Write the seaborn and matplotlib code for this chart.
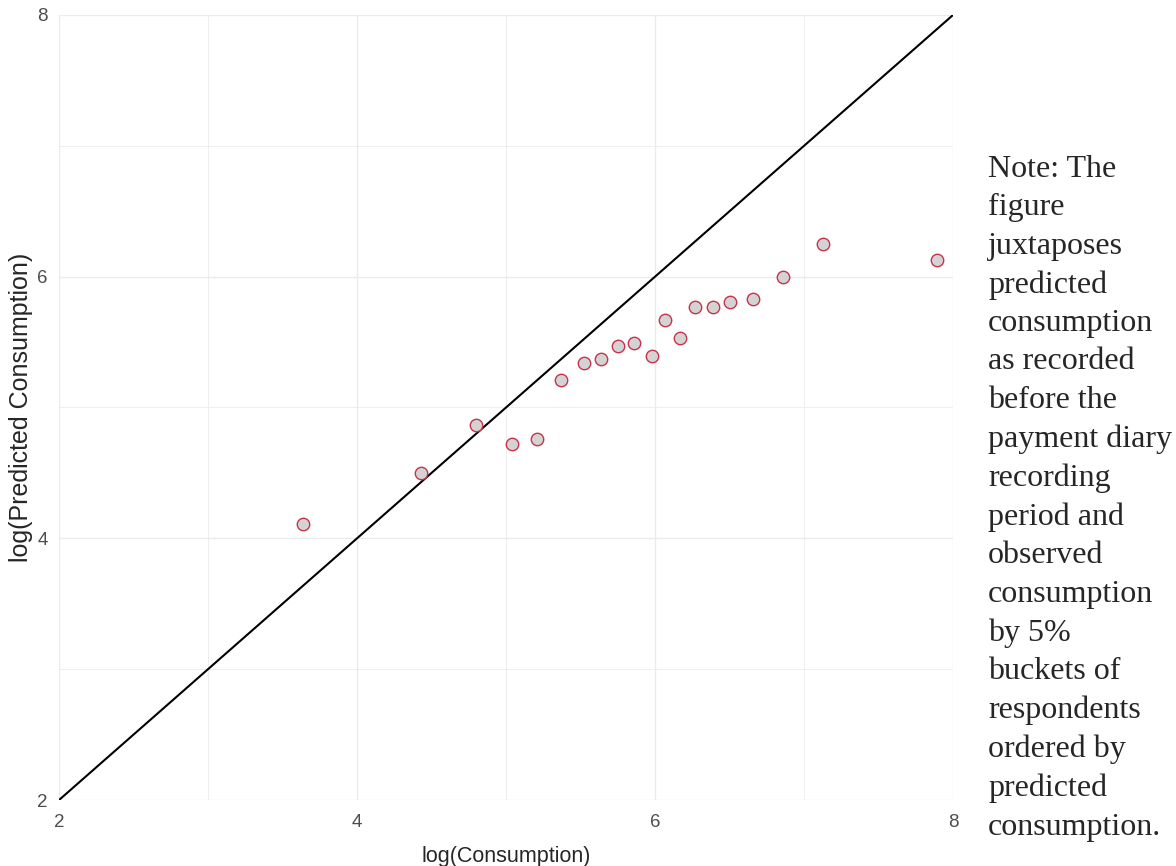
import numpy as np
import pandas as pd
import seaborn as sns
import matplotlib.pyplot as plt

# 5% buckets of respondents ordered by predicted consumption
log_consumption = [3.64, 4.43, 4.80, 5.04, 5.21, 5.37, 5.52, 5.64, 5.75, 5.86,
                   5.98, 6.07, 6.17, 6.27, 6.39, 6.50, 6.66, 6.86, 7.13, 7.89]
log_predicted = [4.11, 4.50, 4.87, 4.72, 4.76, 5.21, 5.34, 5.37, 5.47, 5.49,
                 5.39, 5.67, 5.53, 5.77, 5.77, 5.81, 5.83, 6.00, 6.25, 6.13]
diag = [2, 8]
ticks = [2, 4, 6, 8]

df = pd.DataFrame({"x": log_consumption, "y": log_predicted})

sns.set_style("white")
fig = plt.figure(figsize=(11.76, 8.66), dpi=100)
ax = fig.add_axes([0.0502, 0.0762, 0.7602, 0.9065])

# grid like ggplot theme_minimal
for v in [2, 3, 4, 5, 6, 7, 8]:
    lw = 1.0 if v % 2 == 0 else 0.6
    ax.axvline(v, color="#ebebeb", lw=lw, zorder=0)
    ax.axhline(v, color="#ebebeb", lw=lw, zorder=0)

sns.lineplot(x=diag, y=diag, color="black", lw=1.5, ax=ax, zorder=2)
sns.scatterplot(data=df, x="x", y="y", s=80, color="#d3d3d3",
                edgecolor="#c8324b", linewidth=1.0, ax=ax, zorder=3)

ax.set_xlim(2, 8)
ax.set_ylim(2, 8)
ax.set_xticks(ticks)
ax.set_yticks(ticks)
for s in ax.spines.values():
    s.set_visible(False)
sans = ["Liberation Sans", "DejaVu Sans"]
ax.tick_params(length=0, labelsize=13.5, colors="#4d4d4d")
ax.tick_params(axis="x", pad=10)
ax.tick_params(axis="y", pad=8)
for lab in ax.get_xticklabels() + ax.get_yticklabels():
    lab.set_family(sans)
ax.set_xlabel("log(Consumption)", fontsize=15.5, family=sans)
ax.set_ylabel("log(Predicted Consumption)", fontsize=18, family=sans)
ax.xaxis.set_label_coords(0.5, -0.058)
ax.yaxis.set_label_coords(-0.029, 0.5)

note = ("Note: The\nfigure\njuxtaposes\npredicted\nconsumption\nas recorded\nbefore the\n"
        "payment diary\nrecording\nperiod and\nobserved\nconsumption\nby 5%\nbuckets of\n"
        "respondents\nordered by\npredicted\nconsumption.")
fig.text(988 / 1176, 1 - 155 / 866, note, ha="left", va="top", fontsize=23,
         family=["Liberation Serif", "DejaVu Serif"], linespacing=1.425)

fig.savefig("out.png", dpi=100)
